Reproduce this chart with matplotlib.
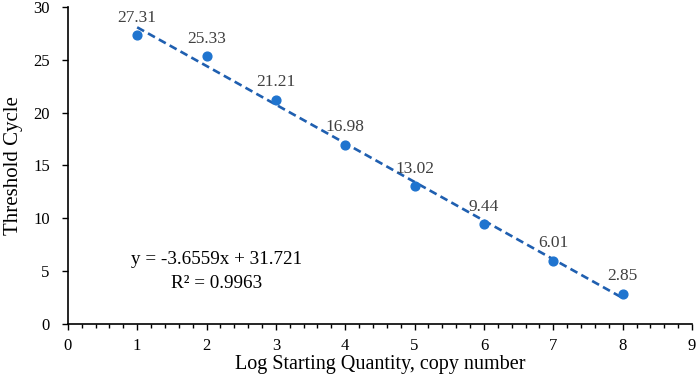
import matplotlib.pyplot as plt
import numpy as np
from matplotlib.ticker import MultipleLocator

plt.rcParams['font.family'] = ['Liberation Serif', 'DejaVu Serif']

log_qty = [1, 2, 3, 4, 5, 6, 7, 8]
ct = [27.31, 25.33, 21.21, 16.98, 13.02, 9.44, 6.01, 2.85]
slope = -3.6559
intercept = 31.721
r2 = 0.9963

fig = plt.figure(figsize=(6.99, 3.8), dpi=100)
ax = fig.add_axes([0.097, 0.147, 0.893, 0.835])

x = np.array(log_qty)
ax.plot(x, slope * x + intercept, linestyle=(0, (3, 1.7)), color='#1f5fb0', linewidth=1.9, zorder=2)
ax.scatter(x, ct, s=40, color='#1f74cf', zorder=3)
for xi, yi in zip(log_qty, ct):
    ax.annotate(f"{yi:.2f}", (xi, yi), xytext=(0, 7), textcoords='offset points',
                ha='center', va='bottom', fontsize=12.5, color='#404040')

ax.text(2.15, 6.1, f"y = {slope}x + {intercept}", ha='center', va='center', fontsize=13.8)
ax.text(2.15, 3.85, f"R² = {r2}", ha='center', va='center', fontsize=13.8)

ax.set_xlim(0, 9)
ax.set_ylim(0, 30)
ax.xaxis.set_major_locator(MultipleLocator(1))
ax.xaxis.set_minor_locator(MultipleLocator(0.2))
ax.yaxis.set_major_locator(MultipleLocator(5))
ax.tick_params(axis='both', labelsize=12, length=4, width=1, color='black')
ax.tick_params(axis='y', pad=9)
ax.tick_params(axis='x', pad=6)
ax.tick_params(axis='x', which='minor', length=3, width=1)
ax.spines['top'].set_visible(False)
ax.spines['right'].set_visible(False)
ax.spines['left'].set_linewidth(1.2)
ax.spines['bottom'].set_linewidth(1.2)
ax.set_xlabel("Log Starting Quantity, copy number", fontsize=14.5, labelpad=1)
ax.set_ylabel("Threshold Cycle", fontsize=15, labelpad=7)

fig.savefig("out.png", dpi=100)
